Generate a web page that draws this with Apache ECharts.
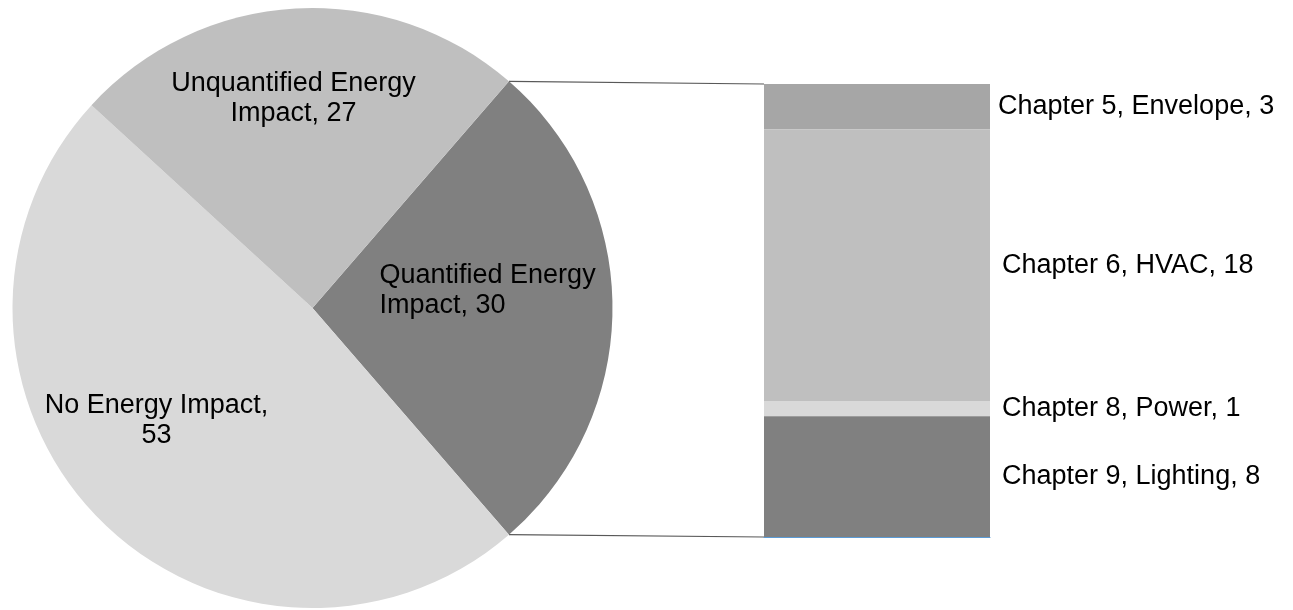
<!DOCTYPE html>
<html>
<head>
<meta charset="utf-8">
<script src="https://cdn.jsdelivr.net/npm/echarts@6/dist/echarts.min.js"></script>
<style>html,body{margin:0;padding:0;background:#fff}#c{width:1293px;height:610px}</style>
</head>
<body>
<div id="c"></div>
<script>
// ---- data ----
const pieNames = ['Quantified Energy Impact', 'No Energy Impact', 'Unquantified Energy Impact'];
const pieValues = [30, 53, 27];
const pieLabelText = ['Quantified Energy\nImpact, 30', 'No Energy Impact,\n53', 'Unquantified Energy\nImpact, 27'];
const barNames = ['Chapter 5, Envelope', 'Chapter 6, HVAC', 'Chapter 8, Power', 'Chapter 9, Lighting'];
const barValues = [3, 18, 1, 8];

// ---- styles ----
const pieColors = ['#808080', '#d9d9d9', '#bfbfbf'];
const barColors = ['#a6a6a6', '#bfbfbf', '#d9d9d9', '#808080'];
const FONT = "'Liberation Sans', Arial, sans-serif";
const FS = 27;
const cx = 312.5, cy = 308, R = 300;
// label anchor offsets relative to pie center (px) and alignment
const pieLabelPos = [
  {dx: 67, dy: -17, align: 'left'},
  {dx: -156, dy: 113, align: 'center'},
  {dx: -19, dy: -209, align: 'center'}
];
const grid = {left: 764, top: 84, width: 226, height: 453};

const total = pieValues.reduce((a, b) => a + b, 0);
const startAngle = 360 * pieValues[0] / total / 2;
const barTotal = barValues.reduce((a, b) => a + b, 0);

const chart = echarts.init(document.getElementById('c'));

const barSeries = barNames.map((n, i) => ({
  type: 'bar',
  name: n,
  stack: 'sub',
  barWidth: '100%',
  data: [barValues[i]],
  itemStyle: {color: barColors[i]},
  silent: true,
  label: {
    show: true,
    position: 'right',
    distance: i === 0 ? 8 : 12,
    formatter: p => p.seriesName + ', ' + p.value,
    fontFamily: FONT,
    fontSize: FS,
    color: '#000'
  }
}));

chart.setOption({
  animation: false,
  grid: Object.assign({containLabel: false}, grid),
  xAxis: {
    type: 'category',
    data: ['sub'],
    position: 'bottom',
    z: 5,
    axisLine: {show: true, onZero: false, lineStyle: {color: '#5b9bd5', width: 1}},
    axisTick: {show: false},
    axisLabel: {show: false},
    splitLine: {show: false}
  },
  yAxis: {
    type: 'value',
    min: 0,
    max: barTotal,
    inverse: true,
    show: false
  },
  series: [
    {
      type: 'pie',
      center: [cx, cy],
      radius: [0, R],
      startAngle: startAngle,
      clockwise: true,
      silent: true,
      data: pieNames.map((n, i) => ({name: n, value: pieValues[i], itemStyle: {color: pieColors[i]}})),
      itemStyle: {borderWidth: 0},
      label: {
        show: true,
        position: 'inside',
        formatter: p => pieLabelText[p.dataIndex],
        fontFamily: FONT,
        fontSize: FS,
        lineHeight: 30,
        color: '#000'
      },
      labelLine: {show: false},
      labelLayout: p => ({
        x: cx + pieLabelPos[p.dataIndex].dx,
        y: cy + pieLabelPos[p.dataIndex].dy,
        align: pieLabelPos[p.dataIndex].align,
        verticalAlign: 'middle'
      })
    }
  ].concat(barSeries)
});

// connector lines from the pie's Quantified slice edges to the bar's corners
const a = startAngle * Math.PI / 180;
const pTop = [cx + R * Math.cos(a), cy - R * Math.sin(a)];
const pBot = [cx + R * Math.cos(a), cy + R * Math.sin(a)];
const yTop = chart.convertToPixel({yAxisIndex: 0}, 0);
const yBot = chart.convertToPixel({yAxisIndex: 0}, barTotal);
const xLeft = grid.left;
chart.setOption({
  graphic: [
    {type: 'line', shape: {x1: pTop[0], y1: pTop[1], x2: xLeft, y2: yTop}, style: {stroke: '#595959', lineWidth: 1.2}, silent: true},
    {type: 'line', shape: {x1: pBot[0], y1: pBot[1], x2: xLeft, y2: yBot}, style: {stroke: '#595959', lineWidth: 1.2}, silent: true}
  ]
});
</script>
</body>
</html>
